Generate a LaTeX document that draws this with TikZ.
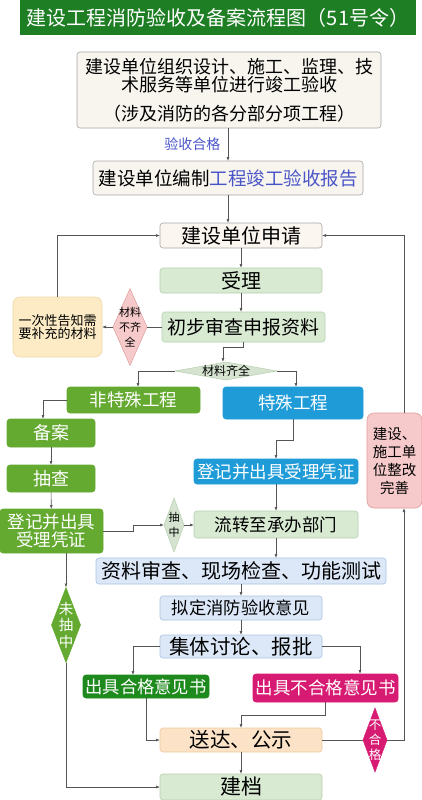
\documentclass[tikz,border=0pt]{standalone}
\usepackage{fontspec}
\usepackage{tikz}
\usetikzlibrary{shapes.geometric, arrows.meta, positioning}
\newfontfamily\cjk{Noto Sans CJK SC}
\newcommand\sizept[1]{\fontsize{#1pt}{#1pt}\selectfont}
\definecolor{titlegreen}{HTML}{1E7E24}
\definecolor{creambg}{HTML}{F7F5EE}
\definecolor{applybg}{HTML}{FCF6F0}
\definecolor{palegreen}{HTML}{D9EAD3}
\definecolor{palegreenline}{HTML}{B5CFAD}
\definecolor{yellowbg}{HTML}{FCEBC5}
\definecolor{yellowline}{HTML}{EFD9A6}
\definecolor{pinkbg}{HTML}{F6CACA}
\definecolor{pinkline}{HTML}{E09C9C}
\definecolor{graygreen}{HTML}{D5E3D0}
\definecolor{midgreen}{HTML}{64A930}
\definecolor{skyblue}{HTML}{1F9CD8}
\definecolor{paleblue}{HTML}{DCE8F8}
\definecolor{paleblueline}{HTML}{A9C1E0}
\definecolor{darkgreen}{HTML}{1E8A1E}
\definecolor{magenta}{HTML}{D81B72}
\definecolor{peach}{HTML}{FCE3C8}
\definecolor{peachline}{HTML}{F0C89C}
\definecolor{labelblue}{HTML}{4A55C8}
\definecolor{linegray}{HTML}{555555}

\begin{document}
\begin{tikzpicture}[
    x=1pt, y=-1pt, font=\cjk,
    wh/.style 2 args={minimum width=#1pt, minimum height=#2pt},
    box/.style={draw=gray!70, rounded corners=3pt, inner sep=0pt, outer sep=0pt,
                align=center, line width=0.6pt},
    lightgreen/.style={box, fill=palegreen, draw=palegreenline},
    lightblue/.style={box, fill=paleblue, draw=paleblueline},
    solidgreen/.style={box, fill=midgreen, draw=midgreen, text=white},
    gem/.style={diamond, inner sep=-3pt, outer sep=0pt, align=center, line width=0.5pt},
    arr/.style={-{Latex[length=4pt, width=3pt]}, draw=linegray, line width=0.6pt},
    link/.style={draw=linegray, line width=0.6pt}
]
\useasboundingbox (0,0) rectangle (422,800);

\node[fill=titlegreen, text=white, inner sep=0pt, wh={396}{35}, font=\cjk\sizept{20}]
    (title) at (218,17.5) {建设工程消防验收及备案流程图（51号令）};

\node[box, fill=creambg, wh={304}{76}, font=\cjk\sizept{18}] (organize) at (229,90)
    {建设单位组织设计、施工、监理、技\\术服务等单位进行竣工验收\\[11pt]（涉及消防的各分部分项工程）};
\node[box, fill=creambg, wh={270}{34}, font=\cjk\sizept{18.5}] (report) at (228,178)
    {建设单位编制\textcolor{labelblue}{工程竣工验收报告}};
\node[box, fill=applybg, wh={162}{25}, font=\cjk\sizept{20}] (apply) at (241,235.5) {建设单位申请};
\node[lightgreen, wh={162}{25}, font=\cjk\sizept{20}] (accept) at (241,280.5) {受理};
\node[lightgreen, wh={163}{30}, font=\cjk\sizept{19}] (precheck) at (243.5,327) {初步审查申报资料};

\node[gem, fill=pinkbg, draw=pinkline, aspect=0.44, wh={34}{77},
    font=\cjk\fontsize{11pt}{15pt}\selectfont] (lack) at (130,327) {材料\\不齐\\全};
\node[box, fill=yellowbg, draw=yellowline, rounded corners=7pt, wh={89}{60},
    font=\cjk\sizept{13}] (notify) at (57.5,327) {一次性告知需\\要补充的材料};
\node[gem, fill=graygreen, draw=palegreenline, aspect=5.6, wh={102}{18}, font=\cjk\sizept{12}]
    (complete) at (226,371) {材料齐全};

\node[solidgreen, wh={133}{26}, font=\cjk\sizept{17.5}] (nonspecial) at (133.5,400) {非特殊工程};
\node[box, fill=skyblue, draw=skyblue, text=white, wh={140}{32}, font=\cjk\sizept{17.5}]
    (special) at (293,403) {特殊工程};
\node[solidgreen, wh={88}{28}, font=\cjk\sizept{18}] (filing) at (51,433) {备案};
\node[solidgreen, wh={88}{27}, font=\cjk\sizept{18}] (spot) at (51,478.5) {抽查};
\node[solidgreen, wh={103}{44}, font=\cjk\sizept{17.5}] (regleft) at (51.5,531) {登记并出具\\受理凭证};
\node[box, fill=skyblue, draw=skyblue, text=white, wh={164}{25}, font=\cjk\sizept{17.5}]
    (regright) at (276,471.5) {登记并出具受理凭证};
\node[lightgreen, wh={164}{27}, font=\cjk\sizept{17.5}] (transfer) at (276,524.5) {流转至承办部门};
\node[gem, fill=graygreen, draw=palegreenline, aspect=0.37, wh={20}{54},
    font=\cjk\fontsize{11pt}{15pt}\selectfont] (drawn) at (174,525) {抽\\中};

\node[lightblue, wh={290}{26}, font=\cjk\sizept{20}] (review) at (241,571) {资料审查、现场检查、功能测试};
\node[lightblue, wh={162}{24}, font=\cjk\sizept{17.3}] (draft) at (241,608) {拟定消防验收意见};
\node[lightblue, wh={162}{23}, font=\cjk\sizept{20.5}] (discuss) at (241,646.5) {集体讨论、报批};
\node[box, fill=darkgreen, draw=darkgreen, text=white, wh={126}{23}, font=\cjk\sizept{17.3}]
    (pass) at (146,686.5) {出具合格意见书};
\node[box, fill=magenta, draw=magenta, text=white, wh={145}{28}, font=\cjk\sizept{17.5}]
    (fail) at (325.5,688) {出具不合格意见书};
\node[box, fill=peach, draw=peachline, wh={162}{24}, font=\cjk\sizept{20.5}] (notice) at (241,740) {送达、公示};
\node[lightgreen, wh={162}{26}, font=\cjk\sizept{21}] (archive) at (241,787) {建档};

\node[gem, fill=magenta, draw=magenta, text=white, aspect=0.375, wh={24}{64},
    font=\cjk\fontsize{12.5pt}{15pt}\selectfont] (faildia) at (375,740) {不\\合\\格};
\node[box, fill=pinkbg, draw=pinkline, rounded corners=7pt, wh={55}{95}, font=\cjk\fontsize{14.5pt}{18pt}\selectfont]
    (rectify) at (394.5,460.5) {建设、\\施工单\\位整改\\完善};
\node[gem, fill=midgreen, draw=midgreen, text=white, aspect=0.39, wh={29}{75},
    font=\cjk\fontsize{14.5pt}{16.5pt}\selectfont] (notdrawn) at (66,625) {未\\抽\\中};

% main line
\draw[arr] (report.north |- organize.south) -- (report.north)
    node[midway, left=4pt, text=labelblue, font=\cjk\sizept{14}] (okmark) {验收合格};
\draw[arr] (report.south) -- (report.south |- apply.north);
\draw[arr] (apply) -- (accept);
\draw[arr] (accept.south) -- (accept.south |- precheck.north);
\draw[link] (precheck.west) -- (lack.east);
\draw[arr] (lack.west) -- (notify.east);
\draw[arr] (notify.north) |- (apply.west);
\draw[arr] (precheck.south) -- ++(0,5) -| ([xshift=-3pt]complete.north);
\draw[arr] (complete.west) -| ([xshift=4.5pt]nonspecial.north);
\draw[arr] (complete.east) -| ([xshift=3pt]special.north);

% non-special branch
\draw[arr] (nonspecial.west) -| ([xshift=-8pt]filing.north);
\draw[arr] (filing) -- (spot);
\draw[arr] (spot) -- (regleft);
\draw[arr] (regleft.east) -- ++(30,0) |- (drawn.west);
\draw[arr] (drawn.east) -- (drawn.east -| transfer.west);
\draw[arr] (regleft.south -| notdrawn.north) -- (notdrawn.north);
\draw[arr] (notdrawn.south) |- (archive.west);

% special branch
\draw[arr] (special.south) -- ++(0,21) -| (regright.north);
\draw[arr] (regright) -- (transfer);
\draw[arr] (transfer.south) -- (transfer.south |- review.north);
\draw[arr] (review.south -| draft.north) -- (draft.north);
\draw[arr] (draft) -- (discuss);
\draw[arr] (discuss.west) -| ([xshift=-13pt]pass.north);
\draw[arr] (discuss.east) -| ([xshift=34.5pt]fail.north);
\draw[arr] (pass.south) |- (notice.west);
\draw[arr] (fail.south) -- ++(0,13) -| (notice.north);
\draw[arr] (notice) -- (archive);

% rework loop
\draw[link] (notice.east) -- (faildia.west);
\draw[arr] (faildia.east) -| ([xshift=9.5pt]rectify.south);
\draw[arr] ([xshift=9.5pt]rectify.north) |- (apply.east);
\end{tikzpicture}
\end{document}
